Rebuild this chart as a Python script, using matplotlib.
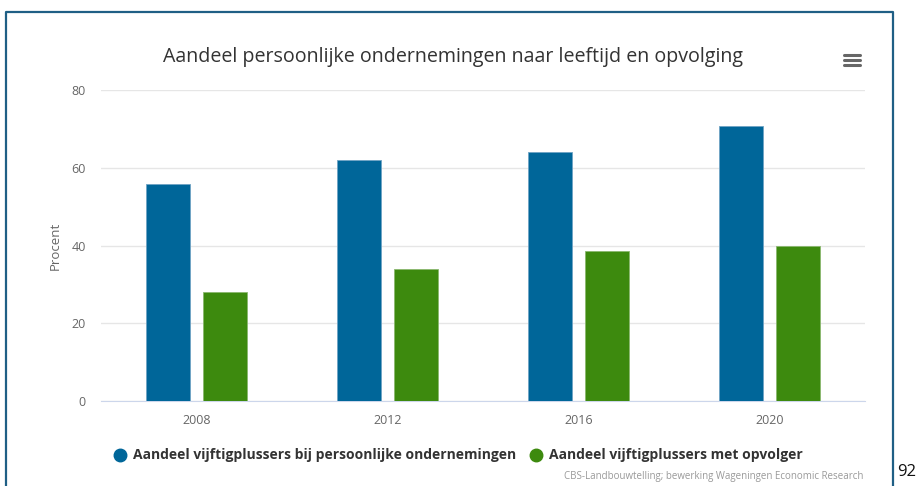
import matplotlib.pyplot as plt
from matplotlib.lines import Line2D
import numpy as np

years = ["2008", "2012", "2016", "2020"]
share_50plus = [55.7, 62.0, 64.1, 70.7]
share_successor = [28.0, 34.0, 38.6, 39.9]
series_names = ["Aandeel vijftigplussers bij persoonlijke ondernemingen",
                "Aandeel vijftigplussers met opvolger"]
colors = ["#006699", "#3d8a0e"]

font = "Open Sans"

W, H = 919, 486
fig = plt.figure(figsize=(W / 100, H / 100), dpi=100)


def fx(px):
    return px / W


def fy(py):
    return (H - py) / H


ax = fig.add_axes([fx(101), fy(401), fx(865) - fx(101), fy(90) - fy(401)])
x = np.arange(len(years))
w = 0.23
ax.bar(x - 0.15, share_50plus, w, color=colors[0], edgecolor="#6fa3c4", linewidth=0.6, zorder=3)
ax.bar(x + 0.15, share_successor, w, color=colors[1], edgecolor="#8ab86f", linewidth=0.6, zorder=3)
ax.set_xlim(-0.5, 3.5)
ax.set_ylim(0, 80)
ax.set_yticks([0, 20, 40, 60, 80])
ax.set_xticks(x)
ax.set_xticklabels(years)
ax.grid(axis="y", color="#e6e6e6", linewidth=1, zorder=0)
for s in ["top", "right", "left"]:
    ax.spines[s].set_visible(False)
ax.spines["bottom"].set_color("#ccd6eb")
ax.tick_params(axis="both", length=0, colors="#666666", labelsize=9)
ax.tick_params(axis="y", pad=11)
ax.tick_params(axis="x", pad=9)
for lab in ax.get_xticklabels() + ax.get_yticklabels():
    lab.set_family(font)
ax.set_ylabel("Procent", color="#666666", fontsize=9.5, family=font, labelpad=7)

fig.text(fx(453), fy(57), "Aandeel persoonlijke ondernemingen naar leeftijd en opvolging",
         ha="center", va="center", fontsize=14.1, color="#333333", family=font)

# legend
for cx, tx, col, name in [(120, 133, colors[0], series_names[0]),
                          (536, 549, colors[1], series_names[1])]:
    fig.add_artist(Line2D([fx(cx)], [fy(455)], marker="o", markersize=9,
                          color=col, transform=fig.transFigure))
    fig.text(fx(tx), fy(455), name, ha="left", va="center", fontsize=10,
             fontweight="bold", color="#333333", family=font)

fig.text(fx(863), fy(476), "CBS-Landbouwtelling; bewerking Wageningen Economic Research",
         ha="right", va="center", fontsize=7, color="#999999", family=font)
fig.text(fx(897), fy(472), "92", ha="left", va="center", fontsize=12, color="#111111", family=font)

# menu icon
for yy in [55, 60, 65]:
    fig.add_artist(Line2D([fx(844), fx(860)], [fy(yy), fy(yy)], color="#666666",
                          linewidth=2.2, solid_capstyle="round", transform=fig.transFigure))

# outer frame
frame = Line2D([fx(5.5), fx(5.5), fx(892.5), fx(892.5)], [0, fy(12.5), fy(12.5), 0],
               color="#1f5f85", linewidth=1.6, transform=fig.transFigure)
fig.add_artist(frame)

fig.savefig("out.png", dpi=100)
